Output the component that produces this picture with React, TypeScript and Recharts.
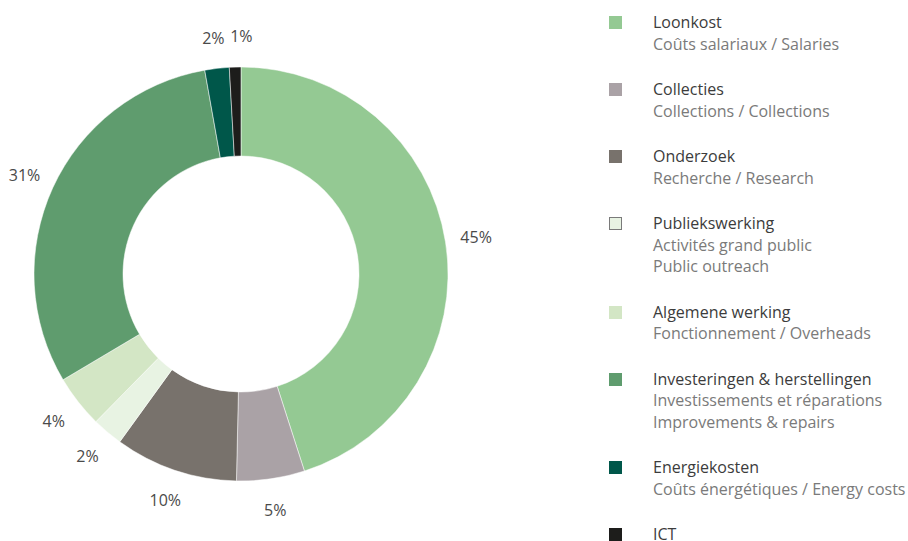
import React from "react";
import { PieChart, Pie, Cell } from "recharts";

const categories = [
  "Loonkost",
  "Collecties",
  "Onderzoek",
  "Publiekswerking",
  "Algemene werking",
  "Investeringen & herstellingen",
  "Energiekosten",
  "ICT",
];
const subtitles: string[][] = [
  ["Coûts salariaux / Salaries"],
  ["Collections / Collections"],
  ["Recherche / Research"],
  ["Activités grand public", "Public outreach"],
  ["Fonctionnement / Overheads"],
  ["Investissements et réparations", "Improvements & repairs"],
  ["Coûts énergétiques / Energy costs"],
  [],
];
const values = [45, 5.3, 9.6, 2.4, 4.1, 30.7, 1.9, 0.9];
const colors = [
  "#94c993",
  "#aaa2a6",
  "#78726c",
  "#e8f3e3",
  "#d3e6c5",
  "#5f9c6e",
  "#00574a",
  "#1d1d1b",
];

const data = categories.map((name, i) => ({ name, value: values[i] }));
const total = values.reduce((a, b) => a + b, 0);

const FONT = "'Open Sans', 'Noto Sans', sans-serif";
const RAD = Math.PI / 180;
const LABEL_GAP = 31;
const MIN_SEP = 28;

const renderLabel = (props: any) => {
  const { cx, cy, midAngle, outerRadius, percent, index, startAngle } = props;
  const r = outerRadius + LABEL_GAP;
  let x = cx + r * Math.cos(-midAngle * RAD);
  const y = cy + r * Math.sin(-midAngle * RAD);
  if (index > 0) {
    // avoid overlapping the previous (counter-clockwise) label
    const prevMid = startAngle + ((values[index - 1] / total) * 360) / 2;
    const px = cx + r * Math.cos(-prevMid * RAD);
    const py = cy + r * Math.sin(-prevMid * RAD);
    if (Math.abs(py - y) < 16 && Math.abs(px - x) < MIN_SEP) {
      x = px + (x >= px ? MIN_SEP : -MIN_SEP);
    }
  }
  return (
    <text
      x={x}
      y={y}
      textAnchor="middle"
      dominantBaseline="central"
      fill="#4a4a4a"
      fontSize={16}
      fontFamily={FONT}
    >
      {Math.round(percent * 100) + "%"}
    </text>
  );
};

function LegendBlock() {
  return (
    <div
      style={{
        position: "absolute",
        left: 609,
        top: 12,
        fontFamily: FONT,
        fontSize: 16,
        lineHeight: "21.5px",
      }}
    >
      {categories.map((c, i) => (
        <div
          key={c}
          style={{ display: "flex", alignItems: "flex-start", marginBottom: 24 }}
        >
          <div
            style={{
              width: 13,
              height: 13,
              marginTop: 4,
              background: colors[i],
              boxSizing: "border-box",
              border: i === 3 ? "1px solid #7a7a7a" : "none",
              flex: "none",
            }}
          />
          <div style={{ marginLeft: 31, whiteSpace: "nowrap" }}>
            <div style={{ color: "#3c3c3c" }}>{c}</div>
            {subtitles[i].map((s) => (
              <div key={s} style={{ color: "#7a7a7a" }}>
                {s}
              </div>
            ))}
          </div>
        </div>
      ))}
    </div>
  );
}

export default function App() {
  return (
    <div
      style={{
        position: "absolute",
        left: 0,
        top: 0,
        width: 908,
        height: 541,
        background: "#fff",
        overflow: "hidden",
      }}
    >
      <PieChart width={908} height={541} margin={{ top: 0, right: 0, bottom: 0, left: 0 }}>
        <Pie
          data={data}
          dataKey="value"
          nameKey="name"
          cx={241}
          cy={274}
          innerRadius={118}
          outerRadius={207}
          startAngle={90}
          endAngle={-270}
          stroke="#ffffff"
          strokeWidth={0.5}
          label={renderLabel}
          labelLine={false}
          isAnimationActive={false}
        >
          {data.map((d, i) => (
            <Cell key={d.name} fill={colors[i]} />
          ))}
        </Pie>
      </PieChart>
      <LegendBlock />
    </div>
  );
}
